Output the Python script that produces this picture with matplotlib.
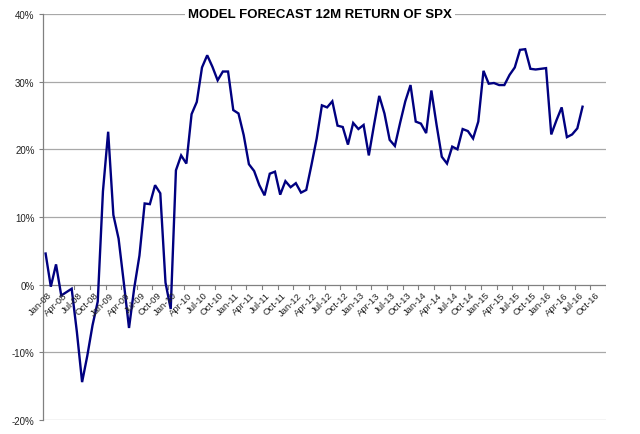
import matplotlib
matplotlib.use("Agg")
import matplotlib.pyplot as plt
from matplotlib.ticker import FuncFormatter

title = "MODEL FORECAST 12M RETURN OF SPX"
months = ["Jan", "Feb", "Mar", "Apr", "May", "Jun", "Jul", "Aug", "Sep", "Oct", "Nov", "Dec"]
years = list(range(8, 17))
categories = [f"{m}-{y:02d}" for y in years for m in months]  # Jan-08 .. Dec-16

values = [
    4.6, -0.3, 3.0, -1.6, -1.1, -0.6, -7.0, -14.4, -10.5, -6.0, -2.5, 13.8,
    22.6, 10.3, 6.8, 0.3, -6.4, -0.5, 4.3, 12.0, 11.9, 14.7, 13.5, 0.3,
    -3.6, 16.9, 19.1, 17.9, 25.2, 27.0, 32.1, 33.9, 32.2, 30.2, 31.5, 31.5,
    25.8, 25.3, 22.1, 17.8, 16.8, 14.7, 13.2, 16.4, 16.7, 13.3, 15.3, 14.4,
    15.0, 13.6, 14.0, 17.7, 21.6, 26.5, 26.2, 27.1, 23.5, 23.3, 20.7, 23.9,
    23.0, 23.6, 19.1, 23.6, 27.9, 25.3, 21.4, 20.5, 23.9, 27.1, 29.5, 24.1,
    23.8, 22.4, 28.7, 23.6, 18.9, 17.9, 20.4, 20.0, 23.0, 22.7, 21.6, 24.1,
    31.6, 29.7, 29.8, 29.5, 29.5, 31.0, 32.1, 34.7, 34.8, 31.9, 31.8, 31.9,
    32.0, 22.2, 24.3, 26.2, 21.8, 22.2, 23.1, 26.3,
]
yticks = [-20, -10, 0, 10, 20, 30, 40]

plt.rcParams['font.family'] = ['Liberation Sans', 'DejaVu Sans']

fig = plt.figure(figsize=(6.4, 4.35), dpi=100)
ax = fig.add_axes([43/640, 14/435, 563/640, 406/435])

for t in yticks:
    ax.axhline(t, color='#808080' if t == 0 else '#a8a8a8', lw=0.9, zorder=1)

x = list(range(len(values)))
ax.plot(x, values, color='#000080', lw=1.7, zorder=3, solid_joinstyle='miter')

ax.set_xlim(-0.5, len(categories) - 0.5)
ax.set_ylim(-20, 40)
ax.set_yticks(yticks)
ax.yaxis.set_major_formatter(FuncFormatter(lambda v, p: f"{int(v)}%"))
ax.tick_params(axis='y', length=3, color='#808080', labelsize=7, labelcolor='#222222', pad=3)

ax.set_xticks([])
for i in range(0, len(categories), 3):
    ax.text(i + 0.3, -0.8, categories[i], rotation=45, ha='right', va='top',
            rotation_mode='anchor', fontsize=6.8, color='#222222', zorder=4)
for i in range(0, len(categories) + 1, 3):
    ax.plot([i - 0.5, i - 0.5], [0, -0.6], color='#808080', lw=0.8, zorder=2)

for s in ['top', 'right', 'bottom']:
    ax.spines[s].set_visible(False)
ax.spines['left'].set_color('#808080')
ax.spines['left'].set_linewidth(0.9)

fig.text(320/640, 1 - 15/435, title, ha='center', va='center', fontsize=9.5,
         fontweight='bold', color='black',
         bbox=dict(facecolor='white', edgecolor='none', pad=2))

fig.savefig("out.png", dpi=100)
